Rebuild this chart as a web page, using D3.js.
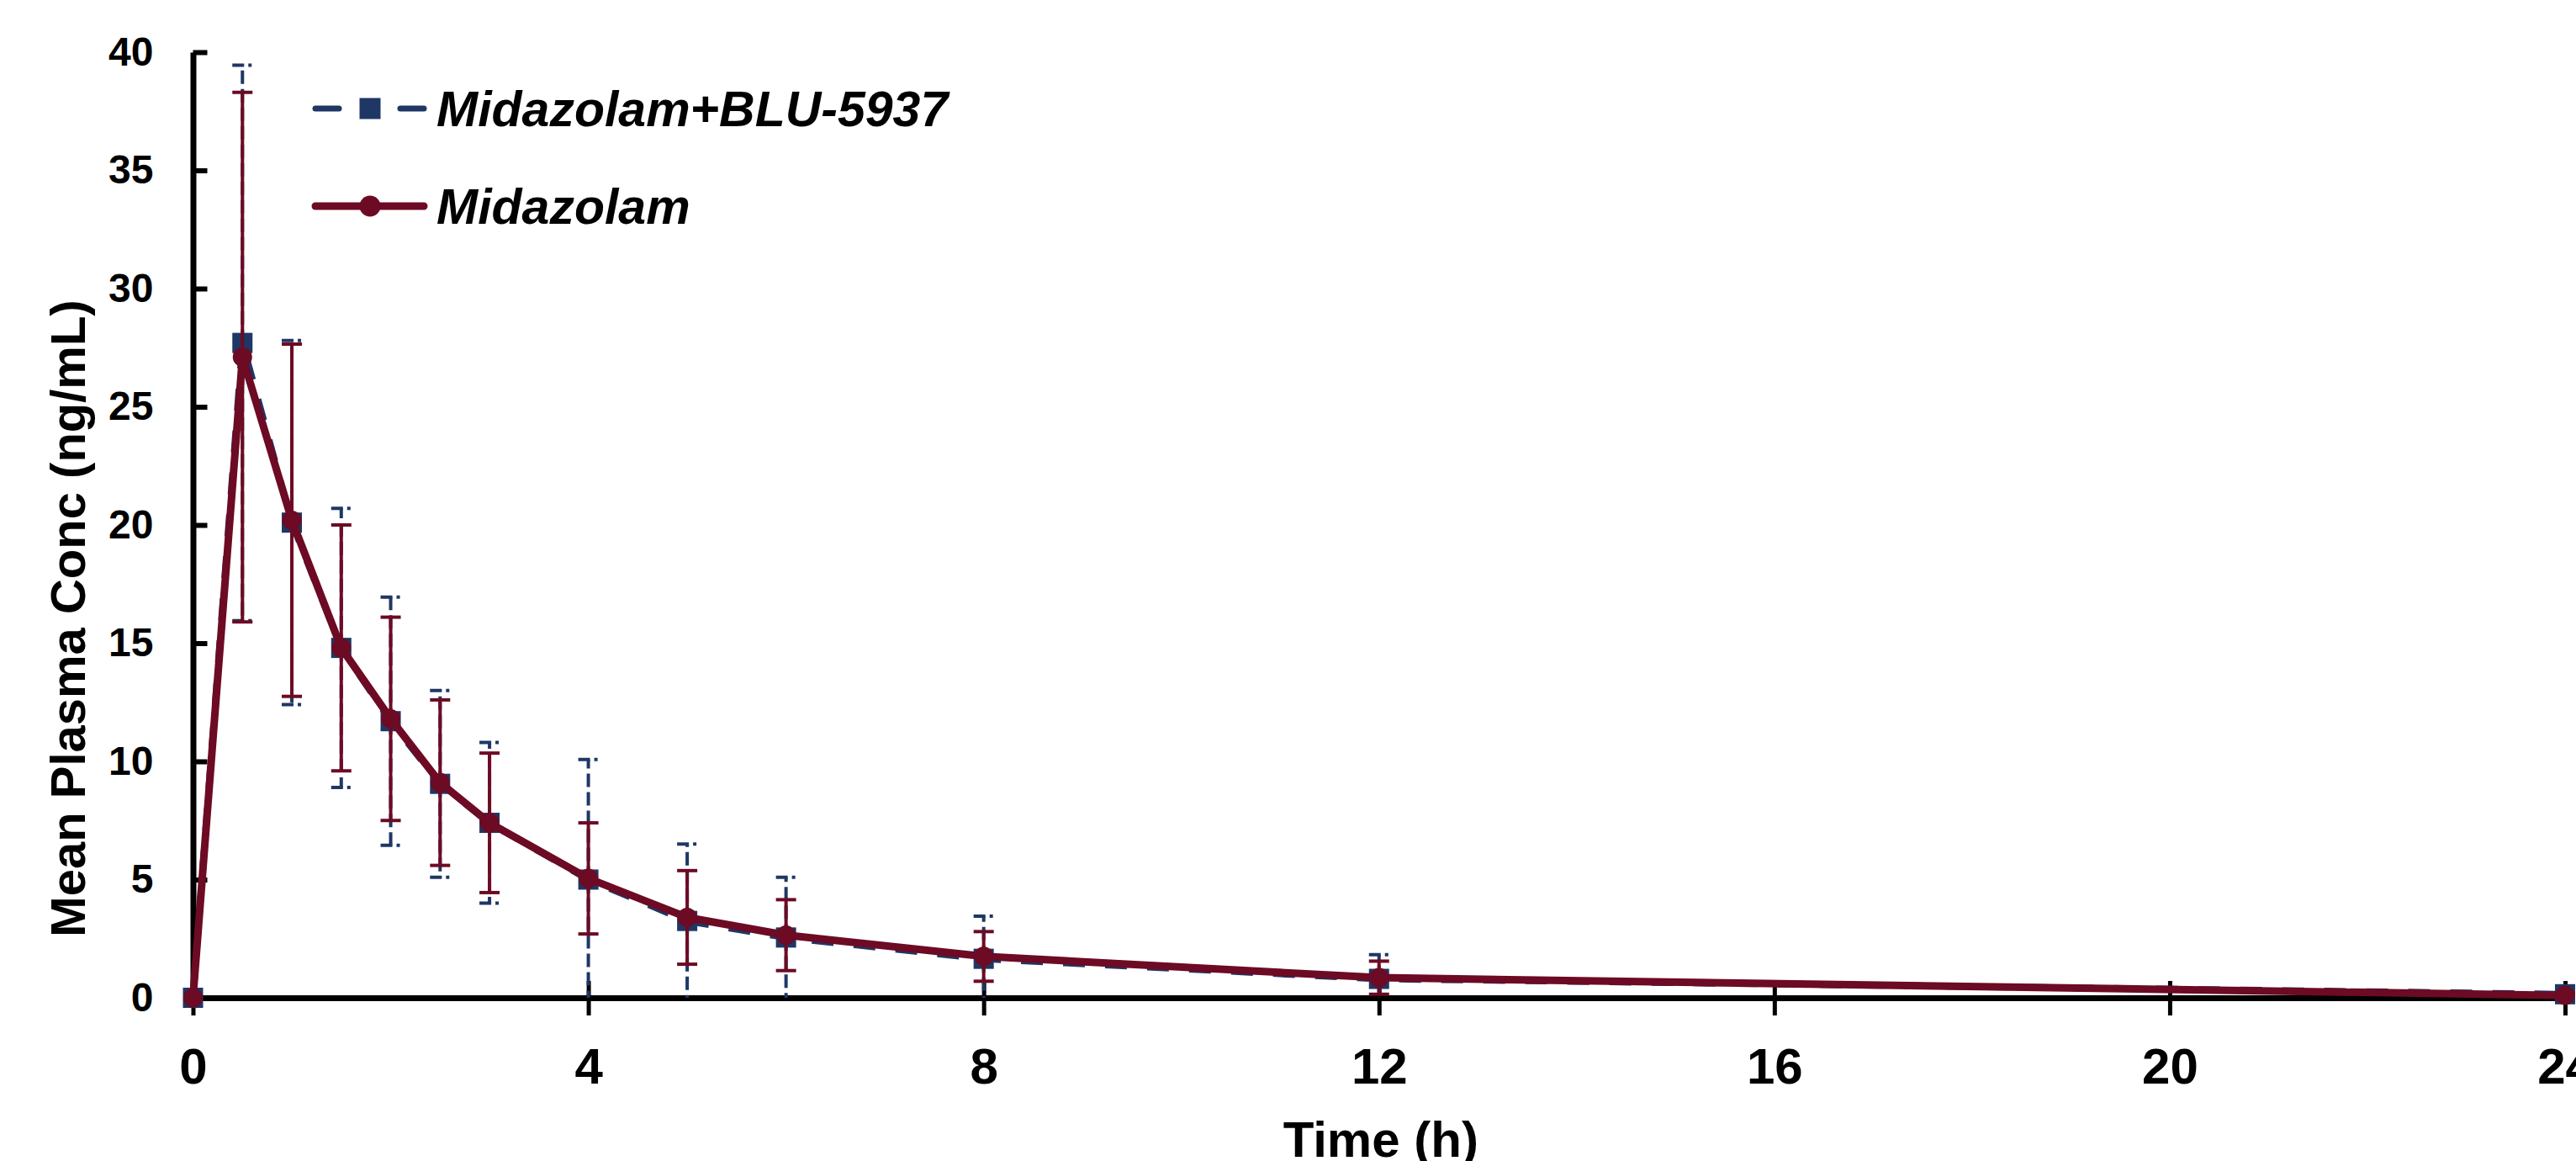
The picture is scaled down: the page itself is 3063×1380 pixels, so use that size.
<!DOCTYPE html>
<html>
<head>
<meta charset="utf-8">
<script src="https://cdn.jsdelivr.net/npm/d3@7"></script>
<style>
  html, body { margin: 0; padding: 0; background: #ffffff; }
  svg { display: block; }
</style>
</head>
<body>
<svg id="chart" width="3063" height="1380"></svg>
<script>
// ---- Data ----
const times = [0, 0.5, 1, 1.5, 2, 2.5, 3, 4, 5, 6, 8, 12, 24];

// Midazolam + BLU-5937 (blue, dashed)
const comboMean = [0, 27.7, 20.1, 14.8, 11.7, 9.05, 7.4, 5.0, 3.25, 2.55, 1.65, 0.8, 0.15];
const comboSD   = [0, 11.75, 7.7, 5.9, 5.25, 3.95, 3.4, 5.08, 3.25, 2.55, 1.8, 1.02, 0.15];

// Midazolam alone (dark red, solid)
const midaMean = [0, 27.1, 20.2, 14.8, 11.8, 9.1, 7.4, 5.05, 3.4, 2.65, 1.75, 0.85, 0.1];
const midaSD   = [0, 11.2, 7.45, 5.2, 4.3, 3.5, 2.95, 2.35, 1.98, 1.5, 1.05, 0.7, 0.1];

const seriesNames = ["Midazolam+BLU-5937", "Midazolam"];
const xTicks = [0, 4, 8, 12, 16, 20, 24];
const yTicks = [0, 5, 10, 15, 20, 25, 30, 35, 40];
const xTitle = "Time (h)";
const yTitle = "Mean Plasma Conc (ng/mL)";

// ---- Styles ----
const BLUE = "#1f3765";
const RED = "#6d0a24";
const FONT = "'Liberation Sans', Arial, Helvetica, sans-serif";

const svg = d3.select("#chart");

const x = d3.scaleLinear().domain([0, 24]).range([229.5, 3050]);
const y = d3.scaleLinear().domain([0, 40]).range([1186, 62]);

// ---- Axes ----
const yAxis = d3.axisLeft(y)
  .tickValues(yTicks)
  .tickSizeInner(-17)
  .tickSizeOuter(0)
  .tickPadding(47)
  .tickFormat(d3.format("d"));

const gy = svg.append("g")
  .attr("transform", `translate(${x(0)},0)`)
  .call(yAxis);
gy.select(".domain").attr("stroke", "#000").attr("stroke-width", 7);
gy.selectAll(".tick line").attr("stroke", "#000").attr("stroke-width", 6);
gy.selectAll(".tick text")
  .attr("fill", "#000")
  .style("font-family", FONT)
  .style("font-weight", "bold")
  .style("font-size", "48px");

const xAxis = d3.axisBottom(x)
  .tickValues(xTicks)
  .tickSizeInner(21)
  .tickSizeOuter(0)
  .tickPadding(38)
  .tickFormat(d3.format("d"));

const gx = svg.append("g")
  .attr("transform", `translate(0,${y(0)})`)
  .call(xAxis);
gx.select(".domain").attr("stroke", "#000").attr("stroke-width", 7).attr("stroke-linecap", "square");
gx.selectAll(".tick line").attr("stroke", "#000").attr("stroke-width", 5).attr("y1", -20);
gx.selectAll(".tick text")
  .attr("fill", "#000")
  .style("font-family", FONT)
  .style("font-weight", "bold")
  .style("font-size", "60px");

// Axis titles
svg.append("text")
  .attr("x", (x(0) + x(24)) / 2 + 2)
  .attr("y", 1375)
  .attr("text-anchor", "middle")
  .style("font-family", FONT)
  .style("font-weight", "bold")
  .style("font-size", "60px")
  .text(xTitle);

svg.append("text")
  .attr("transform", "translate(101,735) rotate(-90)")
  .attr("text-anchor", "middle")
  .style("font-family", FONT)
  .style("font-weight", "bold")
  .style("font-size", "58px")
  .text(yTitle);

// ---- Series drawing ----
function makeData(mean, sd) {
  return times.map((t, i) => ({ t: t, m: mean[i], sd: sd[i] }));
}
const combo = makeData(comboMean, comboSD);
const mida = makeData(midaMean, midaSD);

const plot = svg.append("g");

function drawErrorBars(data, color, dashed) {
  const g = plot.append("g");
  const withErr = data.filter(d => d.sd > 0);
  const capHalf = 12;
  // upper bars
  g.selectAll(".up").data(withErr).enter().append("line")
    .attr("x1", d => x(d.t)).attr("x2", d => x(d.t))
    .attr("y1", d => y(d.m)).attr("y2", d => y(d.m + d.sd))
    .attr("stroke", color).attr("stroke-width", 4)
    .attr("stroke-dasharray", dashed ? "16,6" : null);
  // lower bars (clipped at 0)
  g.selectAll(".dn").data(withErr).enter().append("line")
    .attr("x1", d => x(d.t)).attr("x2", d => x(d.t))
    .attr("y1", d => y(d.m)).attr("y2", d => y(Math.max(0, d.m - d.sd)))
    .attr("stroke", color).attr("stroke-width", 4)
    .attr("stroke-dasharray", dashed ? "16,6" : null);
  // caps
  g.selectAll(".capu").data(withErr).enter().append("line")
    .attr("x1", d => x(d.t) - capHalf).attr("x2", d => x(d.t) + capHalf)
    .attr("y1", d => y(d.m + d.sd)).attr("y2", d => y(d.m + d.sd))
    .attr("stroke", color).attr("stroke-width", 4)
    .attr("stroke-dasharray", dashed ? "14,5,4,5" : null);
  g.selectAll(".capd").data(withErr.filter(d => d.m - d.sd > 0)).enter().append("line")
    .attr("x1", d => x(d.t) - capHalf).attr("x2", d => x(d.t) + capHalf)
    .attr("y1", d => y(d.m - d.sd)).attr("y2", d => y(d.m - d.sd))
    .attr("stroke", color).attr("stroke-width", 4)
    .attr("stroke-dasharray", dashed ? "14,5,4,5" : null);
}

const line = d3.line().x(d => x(d.t)).y(d => y(d.m));

// Blue series (underneath)
drawErrorBars(combo, BLUE, true);
plot.append("path").datum(combo)
  .attr("d", line)
  .attr("fill", "none")
  .attr("stroke", BLUE)
  .attr("stroke-width", 8)
  .attr("stroke-dasharray", "26,24");
plot.selectAll(".sq").data(combo).enter().append("rect")
  .attr("x", d => x(d.t) - 12).attr("y", d => y(d.m) - 12)
  .attr("width", 24).attr("height", 24)
  .attr("fill", BLUE);

// Red series (on top)
drawErrorBars(mida, RED, false);
plot.append("path").datum(mida)
  .attr("d", line)
  .attr("fill", "none")
  .attr("stroke", RED)
  .attr("stroke-width", 9)
  .attr("stroke-linejoin", "round");
plot.selectAll(".ci").data(mida).enter().append("circle")
  .attr("cx", d => x(d.t)).attr("cy", d => y(d.m))
  .attr("r", 11.5)
  .attr("fill", RED);

// ---- Legend ----
const leg = svg.append("g");
// row 1: dashed blue with square
leg.append("line").attr("x1", 375).attr("x2", 403).attr("y1", 129).attr("y2", 129)
  .attr("stroke", BLUE).attr("stroke-width", 7).attr("stroke-linecap", "round");
leg.append("line").attr("x1", 476).attr("x2", 504).attr("y1", 129).attr("y2", 129)
  .attr("stroke", BLUE).attr("stroke-width", 7).attr("stroke-linecap", "round");
leg.append("rect").attr("x", 440 - 12.5).attr("y", 129 - 12.5).attr("width", 25).attr("height", 25)
  .attr("fill", BLUE);
leg.append("text").attr("x", 519).attr("y", 150)
  .style("font-family", FONT).style("font-weight", "bold").style("font-style", "italic")
  .style("font-size", "59px").text(seriesNames[0]);
// row 2: solid red with circle
leg.append("line").attr("x1", 375).attr("x2", 504).attr("y1", 245).attr("y2", 245)
  .attr("stroke", RED).attr("stroke-width", 9).attr("stroke-linecap", "round");
leg.append("circle").attr("cx", 440).attr("cy", 245).attr("r", 12.5).attr("fill", RED);
leg.append("text").attr("x", 519).attr("y", 266)
  .style("font-family", FONT).style("font-weight", "bold").style("font-style", "italic")
  .style("font-size", "59px").text(seriesNames[1]);
</script>
</body>
</html>
